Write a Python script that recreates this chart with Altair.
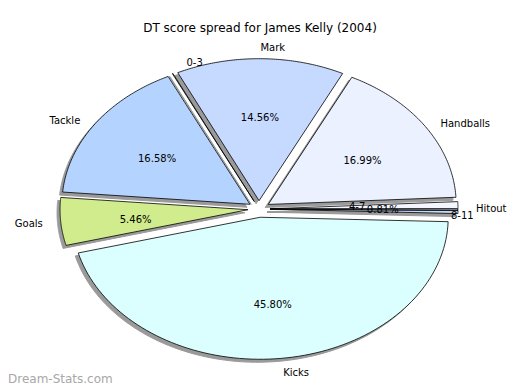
import altair as alt
import pandas as pd

# ---- data ----
labels = ["Hitout", "Handballs", "Mark", "0-3", "Tackle", "Goals", "Kicks", "8-11", "4-7"]
values = [0.81, 16.99, 14.56, 0.05, 16.58, 5.46, 45.80, 0.35, 0.15]
colors = ["#f3f5ff", "#ebf1ff", "#c6d9ff", "#d6e4ff", "#b4d4ff", "#d0ec8c", "#dbffff", "#c4d8ff", "#e8efff"]
title_text = "DT score spread for James Kelly (2004)"
watermark = "Dream-Stats.com"

df = pd.DataFrame({"label": labels, "value": values, "color": colors,
                   "order": list(range(len(labels)))})

# ---- layout (pixels) ----
W, H = 504, 382
CX, CY = 259, 209      # pie centre (page px)
RX, RY = 188, 142      # ellipse radii
EX = 11                # explode distance
EY = EX * RY / RX
N = 90                 # arc resolution
TDY = 3                # text baseline correction

# label placement tweaks for the crowded tiny slices: (dx, dy, align)
label_tweaks = {"0-3": (38, 0, "right"), "8-11": (-25, 2, "left"),
                "4-7": (-127, -5, "left"), "Hitout": (0, 2, "left")}


def tweak_expr(idx):
    expr = "0"
    for lab, t in label_tweaks.items():
        expr = f"(datum.label == '{lab}' ? {t[idx]} : {expr})"
    return expr


def xsc(f):
    return alt.X(f"{f}:Q", scale=alt.Scale(domain=[8, 8 + W], nice=False, zero=False), axis=None)


def ysc(f):
    return alt.Y(f"{f}:Q", scale=alt.Scale(domain=[8, 8 + H], nice=False, zero=False, reverse=True), axis=None)


base = (
    alt.Chart(df)
    .transform_joinaggregate(total="sum(value)")
    .transform_window(cum="sum(value)", sort=[alt.SortField("order")], frame=[None, 0])
    .transform_calculate(
        a0="2*PI*(datum.cum - datum.value)/datum.total",
        a1="2*PI*datum.cum/datum.total",
    )
    .transform_calculate(mid="(datum.a0 + datum.a1)/2")
    .transform_calculate(
        ax=f"{CX} + {EX}*cos(datum.mid)",
        ay=f"{CY} - {EY}*sin(datum.mid)",
    )
)

poly = (
    base.transform_calculate(k=f"sequence(-1, {N + 2})")
    .transform_flatten(["k"])
    .transform_calculate(ang=f"datum.a0 + (datum.a1 - datum.a0)*clamp(datum.k, 0, {N})/{N}")
    .transform_calculate(
        px=f"(datum.k < 0 || datum.k > {N}) ? datum.ax : datum.ax + {RX}*cos(datum.ang)",
        py=f"(datum.k < 0 || datum.k > {N}) ? datum.ay : datum.ay - {RY}*sin(datum.ang)",
    )
)

shadow = (
    poly.transform_calculate(sx="datum.px - 3", sy="datum.py + 3")
    .mark_line(fill="#9a9a9a", stroke="#9a9a9a", strokeWidth=1)
    .encode(x=xsc("sx"), y=ysc("sy"), detail="label:N", order=alt.Order("k:Q"))
)

slices = (
    poly.mark_line(stroke="black", strokeWidth=0.8)
    .encode(
        x=xsc("px"), y=ysc("py"),
        fill=alt.Fill("color:N", scale=None, legend=None),
        detail="label:N",
        order=alt.Order("k:Q"),
    )
)

pct = (
    base.transform_filter("datum.value >= 0.5")
    .transform_calculate(
        px=f"datum.ax + {0.6 * RX}*cos(datum.mid)",
        py=f"datum.ay - {0.6 * RY}*sin(datum.mid) + {TDY}",
        txt="format(datum.value, '.2f') + '%'",
    )
    .mark_text(font="DejaVu Sans", fontSize=10, color="black")
    .encode(x=xsc("px"), y=ysc("py"), text="txt:N")
)

name_pos = base.transform_calculate(
    s="sin(datum.mid)", c="cos(datum.mid)"
).transform_calculate(
    px=f"datum.ax + {RX + 18}*datum.c + {tweak_expr(0)}",
    py=f"datum.ay - {RY + 8}*datum.s - (datum.s > 0.7 ? 5 : (datum.s < -0.7 ? -5 : 0)) + {TDY - 1} + {tweak_expr(1)}",
)

left_names = [l for l in labels if label_tweaks.get(l, (0, 0, None))[2] == "left"]
right_names = [l for l in labels if label_tweaks.get(l, (0, 0, None))[2] == "right"]
left_test = " || ".join(f"datum.label == '{l}'" for l in left_names)
right_test = " || ".join(f"datum.label == '{l}'" for l in right_names)

names_left = (
    name_pos.transform_filter(f"({left_test}) || (!({right_test}) && datum.c > -0.05)")
    .mark_text(font="DejaVu Sans", fontSize=10, color="black", align="left")
    .encode(x=xsc("px"), y=ysc("py"), text="label:N")
)
names_right = (
    name_pos.transform_filter(f"!({left_test}) && (({right_test}) || datum.c <= -0.05)")
    .mark_text(font="DejaVu Sans", fontSize=10, color="black", align="right")
    .encode(x=xsc("px"), y=ysc("py"), text="label:N")
)

title = (
    alt.Chart(pd.DataFrame({"t": [title_text]}))
    .mark_text(font="DejaVu Sans", fontSize=12, color="black")
    .encode(x=alt.value(CX + 1 - 8), y=alt.value(25 + TDY - 8), text="t:N")
)
wm = (
    alt.Chart(pd.DataFrame({"t": [watermark]}))
    .mark_text(font="DejaVu Sans", fontSize=12, color="#a8a8a8", align="left")
    .encode(x=alt.value(0), y=alt.value(379 - 8), text="t:N")
)

chart = (
    alt.layer(shadow, slices, pct, names_left, names_right, title, wm)
    .properties(width=W, height=H, padding=0,
                autosize=alt.AutoSizeParams(type="none"))
    .configure_view(stroke=None)
)

chart.save("out.html", embed_options={"renderer": "svg", "actions": False})
